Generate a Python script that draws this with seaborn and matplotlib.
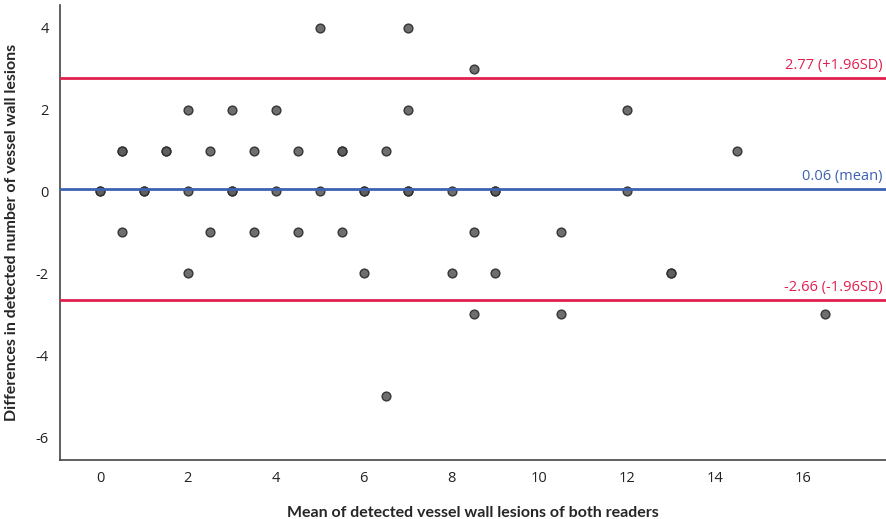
import numpy as np
import pandas as pd
import matplotlib
matplotlib.use('Agg')
import matplotlib.pyplot as plt
import seaborn as sns

# Bland-Altman data (repeated pairs drawn twice -> darker dots)
mean_vals = [5, 7,
             8.5,
             2, 3, 4, 7, 12,
             0.5, 0.5, 1.5, 1.5, 2.5, 3.5, 4.5, 5.5, 5.5, 6.5, 14.5,
             0, 0, 1, 1, 2, 3, 3, 4, 5, 6, 6, 7, 7, 8, 9, 9, 12,
             0.5, 2.5, 3.5, 4.5, 5.5, 8.5, 10.5,
             2, 6, 8, 9, 13, 13,
             8.5, 10.5, 16.5,
             6.5]
diff_vals = [4, 4,
             3,
             2, 2, 2, 2, 2,
             1, 1, 1, 1, 1, 1, 1, 1, 1, 1, 1,
             0, 0, 0, 0, 0, 0, 0, 0, 0, 0, 0, 0, 0, 0, 0, 0, 0,
             -1, -1, -1, -1, -1, -1, -1,
             -2, -2, -2, -2, -2, -2,
             -3, -3, -3,
             -5]

mean_diff = 0.06
upper_loa = 2.77
lower_loa = -2.66

df = pd.DataFrame({'mean': mean_vals, 'diff': diff_vals})

sns.set_style('white')
plt.rcParams['font.family'] = ['Open Sans', 'DejaVu Sans']
plt.rcParams['axes.unicode_minus'] = False

fig = plt.figure(figsize=(8.87, 5.19), dpi=100)
ax = fig.add_axes([0.0676, 0.1137, 0.932, 0.877])

sns.scatterplot(data=df, x='mean', y='diff', ax=ax, s=40, color='#5e5e5e',
                edgecolor='#2a2a2a', linewidth=1.0, alpha=0.9, zorder=2)

red = '#e0204f'
blue = '#3d62b0'
ax.axhline(upper_loa, color=red, lw=2, zorder=3)
ax.axhline(lower_loa, color=red, lw=2, zorder=3)
ax.axhline(mean_diff, color=blue, lw=2, zorder=3)

ax.text(0.995, upper_loa + 0.12, f'{upper_loa:.2f} (+1.96SD)', color=red,
        transform=ax.get_yaxis_transform(), ha='right', va='bottom', fontsize=10.5)
ax.text(0.995, mean_diff + 0.12, f'{mean_diff:.2f} (mean)', color=blue,
        transform=ax.get_yaxis_transform(), ha='right', va='bottom', fontsize=10.5)
ax.text(0.995, lower_loa + 0.12, f'{lower_loa:.2f} (-1.96SD)', color=red,
        transform=ax.get_yaxis_transform(), ha='right', va='bottom', fontsize=10.5)

ax.set_xlim(-0.91, 17.9)
ax.set_ylim(-6.56, 4.56)
ax.set_xticks(np.arange(0, 17, 2))
ax.set_yticks(np.arange(-6, 5, 2))
ax.tick_params(axis='both', length=0, labelsize=10.5, colors='#222222', pad=8)

sns.despine(ax=ax, top=True, right=True)
for side in ['left', 'bottom']:
    ax.spines[side].set_color('#444444')
    ax.spines[side].set_linewidth(1.2)

ax.set_xlabel('Mean of detected vessel wall lesions of both readers',
              fontsize=11.5, fontweight='bold', family=['Lato', 'DejaVu Sans'], labelpad=14)
ax.set_ylabel('Differences in detected number of vessel wall lesions',
              fontsize=11.5, fontweight='bold', family=['Lato', 'DejaVu Sans'], labelpad=12)

fig.savefig('out.png', dpi=100)
plt.close(fig)
